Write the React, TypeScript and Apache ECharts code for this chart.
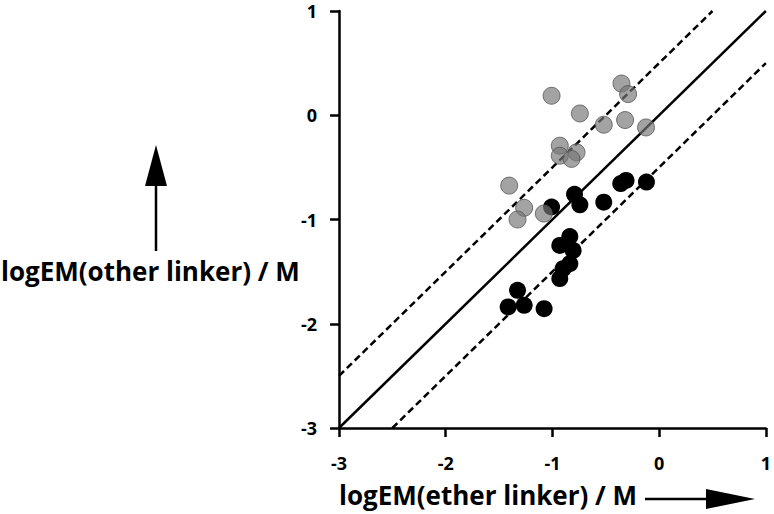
import React, { useEffect, useRef } from "react";
import * as echarts from "echarts";

const xTicks = [-3, -2, -1, 0, 1];
const yTicks = [-3, -2, -1, 0, 1];

const grayX = [-1.008, -0.743, -0.519, -0.319, -0.353, -0.291, -0.123, -0.931, -0.931, -0.774, -0.821, -1.405, -1.265, -1.327, -1.081];
const grayY = [0.187, 0.017, -0.091, -0.046, 0.304, 0.203, -0.117, -0.292, -0.388, -0.356, -0.419, -0.675, -0.888, -1.0, -0.943];

const blackX = [-1.008, -0.793, -0.743, -0.519, -0.36, -0.31, -0.119, -0.837, -0.931, -0.806, -0.837, -0.9, -0.931, -1.327, -1.415, -1.265, -1.078];
const blackY = [-0.88, -0.758, -0.859, -0.834, -0.655, -0.625, -0.641, -1.163, -1.249, -1.297, -1.424, -1.472, -1.567, -1.679, -1.839, -1.823, -1.855];

const identityLine = [[-3, -3], [1, 1]];
const upperLine = [[-3, -2.5], [0.5, 1]];
const lowerLine = [[-2.5, -3], [1, 0.5]];

const xTitle = "logEM(ether linker) / M";
const yTitle = "logEM(other linker) / M";

const FONT = "Open Sans";

export default function App() {
  const ref = useRef<HTMLDivElement>(null);
  useEffect(() => {
    if (!ref.current) return;
    const chart = echarts.init(ref.current, null, { renderer: "svg" });
    const axisCommon = {
      type: "value" as const,
      min: xTicks[0],
      max: xTicks[xTicks.length - 1],
      interval: 1,
      splitLine: { show: false },
      axisLine: { show: true, onZero: false, lineStyle: { color: "#000", width: 2.5 } },
      axisTick: { show: true, inside: false, length: 9, lineStyle: { color: "#000", width: 2.5 } },
      axisLabel: {
        color: "#000",
        fontFamily: FONT,
        fontWeight: "bold" as const,
        fontSize: 18,
        lineHeight: 16,
        margin: 18,
        formatter: (v: number) => String(v),
      },
    };
    chart.setOption({
      animation: false,
      grid: { left: 339, right: 8, top: 11, bottom: 86, containLabel: false },
      xAxis: { ...axisCommon, axisLabel: { ...axisCommon.axisLabel, margin: 27 } },
      yAxis: { ...axisCommon, min: yTicks[0], max: yTicks[yTicks.length - 1], axisLabel: { ...axisCommon.axisLabel, lineHeight: 12, margin: 22 } },
      series: [
        {
          type: "line",
          data: identityLine,
          symbol: "none",
          lineStyle: { color: "#000", width: 2.5 },
          z: 1,
        },
        {
          type: "line",
          data: upperLine,
          symbol: "none",
          lineStyle: { color: "#000", width: 2.5, type: [7, 4] },
          z: 1,
        },
        {
          type: "line",
          data: lowerLine,
          symbol: "none",
          lineStyle: { color: "#000", width: 2.5, type: [7, 4] },
          z: 1,
        },
        {
          type: "scatter",
          data: blackX.map((x, i) => [x, blackY[i]]),
          symbolSize: 17,
          itemStyle: { color: "#000", opacity: 1 },
          z: 2,
        },
        {
          type: "scatter",
          data: grayX.map((x, i) => [x, grayY[i]]),
          symbolSize: 17,
          itemStyle: { color: "rgba(120,120,120,0.85)", borderColor: "#555", borderWidth: 1 },
          z: 3,
        },
      ],
      graphic: [
        {
          type: "text",
          x: 339,
          y: 495,
          style: { text: xTitle, fontFamily: FONT, fontWeight: "bold", fontSize: 26, lineHeight: 26, fill: "#000", verticalAlign: "middle", align: "left" },
        },
        {
          type: "line",
          shape: { x1: 645, y1: 499, x2: 715, y2: 499 },
          style: { stroke: "#000", lineWidth: 2.5 },
        },
        {
          type: "polygon",
          shape: { points: [[706, 489], [755, 499], [706, 509]] },
          style: { fill: "#000" },
        },
        {
          type: "text",
          x: 1,
          y: 271,
          style: { text: yTitle, fontFamily: FONT, fontWeight: "bold", fontSize: 26, lineHeight: 26, fill: "#000", verticalAlign: "middle", align: "left" },
        },
        {
          type: "line",
          shape: { x1: 156, y1: 251, x2: 156, y2: 170 },
          style: { stroke: "#000", lineWidth: 2.5 },
        },
        {
          type: "polygon",
          shape: { points: [[145, 186], [156, 145], [167, 186]] },
          style: { fill: "#000" },
        },
      ],
    });
    return () => chart.dispose();
  }, []);
  return <div ref={ref} style={{ width: 774, height: 514, position: "absolute", left: 0, top: 0 }} />;
}
